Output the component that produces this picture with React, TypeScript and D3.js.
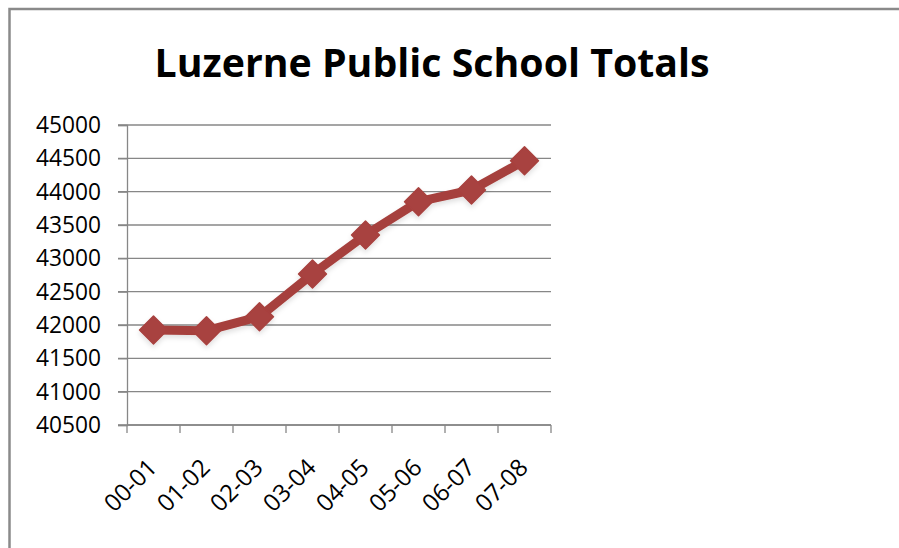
import React, { useRef, useEffect } from 'react';
import * as d3 from 'd3';

const years = ['00-01', '01-02', '02-03', '03-04', '04-05', '05-06', '06-07', '07-08'];
const totals = [41925, 41915, 42125, 42765, 43350, 43850, 44025, 44465];
const yTicks = [40500, 41000, 41500, 42000, 42500, 43000, 43500, 44000, 44500, 45000];

function App() {
    const chartRef = useRef<HTMLDivElement | null>(null);

    useEffect(() => {
        const width = 899;
        const height = 548;
        const left = 127;
        const right = 551;
        const top = 125;
        const bottom = 425;
        const font = "'Open Sans', 'DejaVu Sans', sans-serif";

        const svg = d3
            .select(chartRef.current)
            .append('svg')
            .attr('width', width)
            .attr('height', height)
            .style('position', 'absolute')
            .style('left', '0px')
            .style('top', '0px')
            .style('background', '#fff');

        // drop shadow for the series
        const defs = svg.append('defs');
        const filter = defs.append('filter').attr('id', 'shadow')
            .attr('x', '-20%').attr('y', '-20%').attr('width', '140%').attr('height', '140%');
        filter.append('feDropShadow')
            .attr('dx', 0).attr('dy', 3).attr('stdDeviation', 2.5)
            .attr('flood-color', '#000').attr('flood-opacity', 0.12);

        // outer frame
        svg.append('rect')
            .attr('x', 9.5)
            .attr('y', 9)
            .attr('width', width + 20)
            .attr('height', height + 20)
            .attr('fill', 'none')
            .attr('stroke', '#8a8a8a')
            .attr('stroke-width', 2.5);

        svg.append('text')
            .attr('x', 432)
            .attr('y', 77)
            .attr('text-anchor', 'middle')
            .attr('font-family', font)
            .attr('font-weight', 'bold')
            .attr('font-size', 39)
            .attr('textLength', 555)
            .attr('lengthAdjust', 'spacingAndGlyphs')
            .attr('fill', '#000')
            .text('Luzerne Public School Totals');

        const x = d3.scaleBand<string>()
            .domain(years)
            .range([left, right])
            .padding(0);

        const y = d3.scaleLinear()
            .domain([40500, 45000])
            .range([bottom, top]);

        // horizontal grid lines
        svg.selectAll('.grid')
            .data(yTicks)
            .enter()
            .append('line')
            .attr('class', 'grid')
            .attr('x1', left - 9)
            .attr('x2', right)
            .attr('y1', (d) => y(d))
            .attr('y2', (d) => y(d))
            .attr('stroke', '#878787')
            .attr('stroke-width', 1.3);

        // y axis
        const yAxis = svg.append('g')
            .attr('transform', `translate(${left},0)`)
            .call(d3.axisLeft(y).tickValues(yTicks).tickSize(9).tickPadding(17).tickFormat(d3.format('d')));
        yAxis.select('.domain').attr('stroke', '#878787').attr('stroke-width', 1.3);
        yAxis.selectAll('.tick line').attr('stroke', '#878787').attr('stroke-width', 1.3);
        yAxis.selectAll('.tick text')
            .attr('font-family', font)
            .attr('font-size', 23)
            .attr('textLength', 65)
            .attr('lengthAdjust', 'spacingAndGlyphs')
            .attr('fill', '#000');

        // x axis line and ticks at band edges
        svg.append('line')
            .attr('x1', left)
            .attr('x2', right)
            .attr('y1', bottom)
            .attr('y2', bottom)
            .attr('stroke', '#878787')
            .attr('stroke-width', 1.3);

        const edges = years.map((d) => x(d) as number).concat([right]);
        svg.selectAll('.xtick')
            .data(edges)
            .enter()
            .append('line')
            .attr('class', 'xtick')
            .attr('x1', (d) => d)
            .attr('x2', (d) => d)
            .attr('y1', bottom)
            .attr('y2', bottom + 8)
            .attr('stroke', '#878787')
            .attr('stroke-width', 1.3);

        const cx = (d: string) => (x(d) as number) + x.bandwidth() / 2;

        svg.selectAll('.xlabel')
            .data(years)
            .enter()
            .append('text')
            .attr('class', 'xlabel')
            .attr('transform', (d) => `translate(${cx(d) + 5},${bottom + 44}) rotate(-45)`)
            .attr('text-anchor', 'end')
            .attr('font-family', font)
            .attr('font-size', 24)
            .attr('fill', '#000')
            .text((d) => d);

        // series
        const line = d3.line<number>()
            .x((d, i) => cx(years[i]))
            .y((d) => y(d));

        const series = svg.append('g').attr('filter', 'url(#shadow)');

        series.append('path')
            .datum(totals)
            .attr('d', (d) => line(d))
            .attr('fill', 'none')
            .attr('stroke', '#a6403d')
            .attr('stroke-width', 9)
            .attr('stroke-linejoin', 'round');

        const diamond = d3.symbol().type(d3.symbolSquare).size(390);
        series.selectAll('.marker')
            .data(totals)
            .enter()
            .append('path')
            .attr('class', 'marker')
            .attr('d', diamond())
            .attr('transform', (d, i) => `translate(${cx(years[i])},${y(d)}) rotate(45)`)
            .attr('fill', '#a8423f')
            .attr('stroke', '#a8423f')
            .attr('stroke-width', 1.5)
            .attr('stroke-linejoin', 'round');

        return () => {
            svg.remove();
        };
    }, []);

    return <div ref={chartRef}></div>;
}

export default App;
